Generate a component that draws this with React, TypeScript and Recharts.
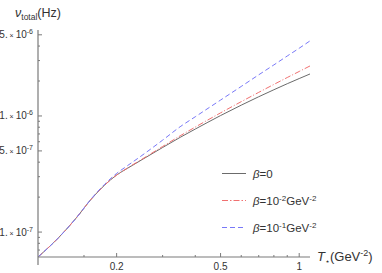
import React from 'react';
import { LineChart, Line, XAxis, YAxis, Legend, Label, ReferenceLine } from 'recharts';

// T_* (GeV^-2) sample points and the total frequency for each beta
const temps = [0.1, 0.12, 0.14, 0.16, 0.18, 0.2, 0.22, 0.25, 0.3, 0.35, 0.4, 0.5, 0.6, 0.7, 0.8, 0.9, 1.0, 1.1];
const nuBeta0 = [6.1e-8, 8.97e-8, 1.32e-7, 1.925e-7, 2.54e-7, 3.1e-7, 3.54e-7, 4.2e-7, 5.35e-7, 6.54e-7, 7.71e-7, 1.008e-6, 1.239e-6, 1.464e-6, 1.682e-6, 1.895e-6, 2.1e-6, 2.3e-6];
const nuBetaE2 = [6.1e-8, 8.97e-8, 1.32e-7, 1.925e-7, 2.54e-7, 3.1e-7, 3.56e-7, 4.24e-7, 5.46e-7, 6.74e-7, 8.02e-7, 1.063e-6, 1.328e-6, 1.597e-6, 1.869e-6, 2.143e-6, 2.417e-6, 2.696e-6];
const nuBetaE1 = [6.1e-8, 8.97e-8, 1.32e-7, 1.937e-7, 2.583e-7, 3.2e-7, 3.73e-7, 4.57e-7, 6.19e-7, 8.07e-7, 9.84e-7, 1.371e-6, 1.796e-6, 2.262e-6, 2.753e-6, 3.284e-6, 3.833e-6, 4.432e-6];

const xMajor = [0.2, 0.5, 1];
const xMinor = [0.15, 0.3, 0.4, 0.6, 0.7, 0.8, 0.9];
const yMajor = [1e-7, 5e-7, 1e-6, 5e-6];
const yMinor = [7e-8, 8e-8, 9e-8, 2e-7, 3e-7, 4e-7, 6e-7, 7e-7, 8e-7, 9e-7, 2e-6, 3e-6, 4e-6];

const data = temps.map((t, i) => ({ t, b0: nuBeta0[i], b2: nuBetaE2[i], b1: nuBetaE1[i] }));

const FONT = '"Liberation Sans", Arial, sans-serif';
const AXIS = '#7a7a7a';
const TEXT = '#333';
const GRAY = '#6b6b6b';
const RED = '#f07070';
const BLUE = '#7878f8';

const isIn = (list: number[], v: number) => list.some((m) => Math.abs(m - v) / m < 1e-6);

const YTick = (props: any) => {
  const { x, y, payload } = props;
  const v = payload.value;
  const major = isIn(yMajor, v);
  const exp = Math.floor(Math.log10(v) + 1e-9);
  const mant = Math.round(v / Math.pow(10, exp));
  return (
    <g>
      <line x1={x} x2={x + (major ? 4 : 2)} y1={y} y2={y} stroke={AXIS} />
      {major && (
        <text x={x - 5} y={y + 3.5} textAnchor="end" fontSize={10} fill={TEXT} fontFamily={FONT}>
          {mant}.<tspan fontSize={7}> × </tspan>10<tspan dy={-4} fontSize={7}>{exp}</tspan>
        </text>
      )}
    </g>
  );
};

const XTick = (props: any) => {
  const { x, y, payload } = props;
  const major = isIn(xMajor, payload.value);
  return (
    <g>
      <line x1={x} x2={x} y1={y} y2={y - (major ? 4 : 2)} stroke={AXIS} />
      {major && (
        <text x={x} y={y + 13} textAnchor="middle" fontSize={10} fill={TEXT} fontFamily={FONT}>
          {payload.value}
        </text>
      )}
    </g>
  );
};

const YLabel = (props: any) => {
  const { viewBox } = props;
  const cx = viewBox.x + viewBox.width;
  return (
    <text x={cx} y={viewBox.y - 13} textAnchor="middle" fontSize={12.5} fill={TEXT} fontFamily={FONT}>
      <tspan fontStyle="italic">ν</tspan>
      <tspan fontSize={8.5} dy={3}>total</tspan>
      <tspan dy={-3}>(Hz)</tspan>
    </text>
  );
};

const XLabel = (props: any) => {
  const { viewBox } = props;
  const ax = viewBox.x + viewBox.width + 7;
  return (
    <text x={ax} y={viewBox.y + 4} textAnchor="start" fontSize={13} fill={TEXT} fontFamily={FONT}>
      <tspan fontStyle="italic">T</tspan>
      <tspan fontSize={8} dy={3}>⋆</tspan>
      <tspan dy={-3}>(GeV</tspan>
      <tspan fontSize={9} dy={-5}>-2</tspan>
      <tspan dy={5}>)</tspan>
    </text>
  );
};

const legendRows = [
  { color: GRAY, dash: undefined, base: '0', exp: '' },
  { color: RED, dash: '6 2 1.5 2', base: '10', exp: '-2' },
  { color: BLUE, dash: '5 3', base: '10', exp: '-1' },
];

const renderLegend = () => (
  <svg width={170} height={72} style={{ overflow: 'visible' }}>
    {legendRows.map((r, i) => {
      const y = 10.5 + i * 27;
      return (
        <g key={i}>
          <line x1={0} x2={24} y1={y} y2={y} stroke={r.color} strokeDasharray={r.dash} strokeWidth={1} />
          <text x={31} y={y + 4} fontSize={11.5} fill={TEXT} fontFamily={FONT}>
            <tspan fontStyle="italic">β</tspan>={r.base}
            {r.exp && (
              <>
                <tspan fontSize={8} dy={-4}>{r.exp}</tspan>
                <tspan dy={4}>GeV</tspan>
                <tspan fontSize={8} dy={-4}>-2</tspan>
              </>
            )}
          </text>
        </g>
      );
    })}
  </svg>
);

export default function App() {
  return (
    <div style={{ position: 'absolute', left: 0, top: 0, background: '#fff' }}>
      <LineChart width={382} height={273} data={data} margin={{ top: 30, right: 72, bottom: 0, left: 0 }}>
        <XAxis
          dataKey="t"
          type="number"
          scale="log"
          domain={[0.1, 1.1]}
          allowDataOverflow
          ticks={[...xMajor, ...xMinor]}
          interval={0}
          tick={<XTick />}
          tickLine={false}
          tickSize={0}
          tickMargin={0}
          height={16}
          axisLine={{ stroke: AXIS, strokeWidth: 1.2 }}
        >
          <Label content={<XLabel />} />
        </XAxis>
        <YAxis
          type="number"
          scale="log"
          domain={[6.1e-8, 5.5e-6]}
          allowDataOverflow
          ticks={[...yMajor, ...yMinor]}
          interval={0}
          tick={<YTick />}
          tickLine={false}
          tickSize={0}
          tickMargin={0}
          width={38}
          axisLine={{ stroke: AXIS, strokeWidth: 1.2 }}
        >
          <Label content={<YLabel />} />
        </YAxis>
        <ReferenceLine
          segment={[{ x: 0.1, y: 6.1e-8 }, { x: 0.1, y: 5.2e-8 }]}
          ifOverflow="visible"
          stroke={AXIS}
          strokeWidth={1.2}
        />
        <Legend
          content={renderLegend}
          layout="horizontal"
          verticalAlign="middle"
          align="center"
          wrapperStyle={{ position: 'absolute', left: 222, top: 163, width: 170, height: 72 }}
        />
        <Line dataKey="b0" type="monotone" stroke={GRAY} strokeWidth={1} dot={false} isAnimationActive={false} />
        <Line dataKey="b2" type="monotone" stroke={RED} strokeWidth={1} strokeDasharray="6 2 1 2" dot={false} isAnimationActive={false} />
        <Line dataKey="b1" type="monotone" stroke={BLUE} strokeWidth={1} strokeDasharray="5 3" dot={false} isAnimationActive={false} />
      </LineChart>
    </div>
  );
}
